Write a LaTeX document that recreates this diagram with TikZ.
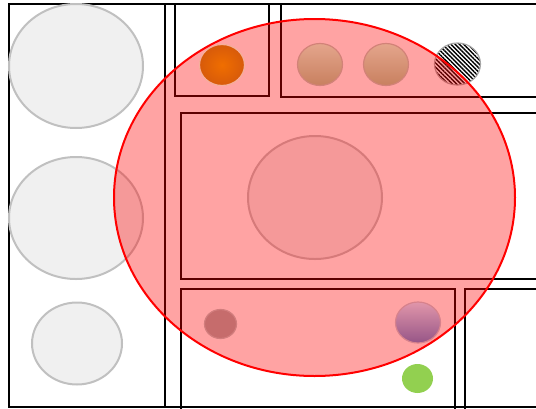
\documentclass[tikz,border=0pt]{standalone}
\usetikzlibrary{shapes.geometric,patterns.meta}
\definecolor{orangeA}{RGB}{240,110,0}
\definecolor{orangeB}{RGB}{215,90,10}
\definecolor{tanTop}{RGB}{228,165,140}
\definecolor{tanBot}{RGB}{200,128,95}
\definecolor{tanEdge}{RGB}{210,130,120}
\definecolor{dred}{RGB}{198,108,108}
\definecolor{dredEdge}{RGB}{210,125,125}
\definecolor{purTop}{RGB}{225,150,170}
\definecolor{purBot}{RGB}{150,85,135}
\definecolor{purEdge}{RGB}{215,130,140}
\definecolor{lgreen}{RGB}{146,208,80}
\definecolor{gfill}{RGB}{240,240,240}
\definecolor{gedge}{RGB}{192,192,192}
\begin{document}
\begin{tikzpicture}[x=1pt,y=-1pt,
  box/.style={draw=black,line width=2pt},
  disc/.style={ellipse,inner sep=0pt,outer sep=0pt},
  graydisc/.style={disc,draw=gedge,fill=gfill,line width=2pt},
]
\useasboundingbox (0,0) rectangle (536,408);
% frames
\draw[box] (9,4) rectangle (165,407);
\draw[box] (165,4) rectangle (545,407);
\draw[box] (175,4) rectangle (269,96);
\draw[box] (281,4) rectangle (545,97);
\draw[box] (181,113) rectangle (545,279);
\draw[box] (181,289) rectangle (455,412);
\draw[box] (465,289) rectangle (545,412);
% gray discs
\node[graydisc,minimum width=134pt,minimum height=124pt] (g1) at (76,66) {};
\node[graydisc,minimum width=134pt,minimum height=122pt] (g2) at (76,218) {};
\node[graydisc,minimum width=90pt,minimum height=82pt] (g3) at (77,343.5) {};
\node[graydisc,minimum width=134pt,minimum height=123pt] (g4) at (315,197.5) {};
% hatched disc
\node[disc,minimum width=46pt,minimum height=42pt,draw=black!35,line width=1.2pt,
  preaction={fill=white},pattern={Lines[angle=-45,distance=3pt,line width=1.4pt]}] (h) at (457.5,64) {};
% red overlay
\node[disc,minimum width=401pt,minimum height=357pt,fill=red,fill opacity=0.36,
  draw=red,draw opacity=1,line width=2pt] (big) at (314.5,197.5) {};
% coloured discs
\node[disc,minimum width=45pt,minimum height=41pt,inner color=orangeA,outer color=orangeB,
  draw=orangeB!60!red!40,line width=1.2pt] (o) at (222,65) {};
\node[disc,minimum width=45pt,minimum height=42pt,top color=tanTop,bottom color=tanBot,
  draw=tanEdge,line width=1.2pt] (t1) at (320,64.5) {};
\node[disc,minimum width=45pt,minimum height=42pt,top color=tanTop,bottom color=tanBot,
  draw=tanEdge,line width=1.2pt] (t2) at (386,64.5) {};
\node[disc,minimum width=32pt,minimum height=29pt,fill=dred,draw=dredEdge,line width=1.2pt] (r) at (220.5,324) {};
\node[disc,minimum width=45pt,minimum height=41pt,top color=purTop,bottom color=purBot,
  draw=purEdge,line width=1.2pt] (p) at (418,322.5) {};
\node[disc,minimum width=31pt,minimum height=29pt,fill=lgreen] (gr) at (417.5,378.5) {};
\end{tikzpicture}
\end{document}
